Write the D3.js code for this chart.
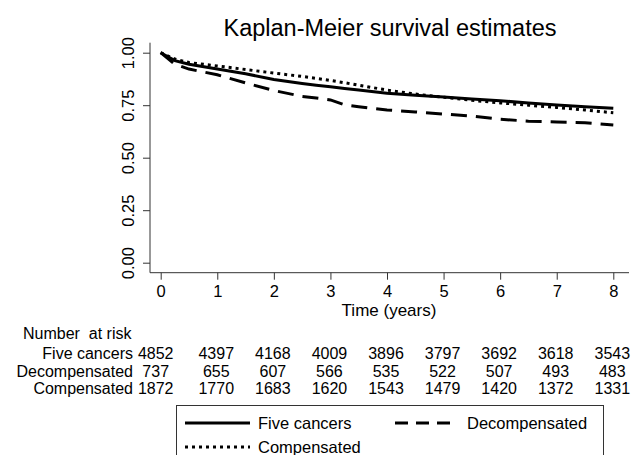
<!DOCTYPE html>
<html>
<head>
<meta charset="utf-8">
<script src="https://cdn.jsdelivr.net/npm/d3@7"></script>
<style>
  body { margin: 0; background: #fff; }
  svg { font-family: "Liberation Sans", Arial, sans-serif; display: block; }
</style>
</head>
<body>
<div id="chart"></div>
<script>
// data
const times = [0, 0.25, 0.5, 1, 1.5, 2, 2.5, 2.75, 3, 3.25, 3.5, 4, 4.5, 5, 5.5, 6, 6.5, 7, 7.5, 8];
const fiveCancers   = [1.0, 0.962, 0.945, 0.922, 0.900, 0.872, 0.853, 0.845, 0.838, 0.830, 0.822, 0.807, 0.797, 0.789, 0.780, 0.771, 0.761, 0.751, 0.743, 0.735];
const decompensated = [1.0, 0.945, 0.922, 0.895, 0.856, 0.820, 0.792, 0.784, 0.775, 0.752, 0.743, 0.727, 0.718, 0.708, 0.698, 0.683, 0.674, 0.670, 0.667, 0.656];
const compensated   = [1.0, 0.970, 0.953, 0.937, 0.920, 0.903, 0.887, 0.878, 0.868, 0.857, 0.845, 0.822, 0.803, 0.788, 0.773, 0.761, 0.750, 0.739, 0.727, 0.714];

const riskTimes = [0, 1, 2, 3, 4, 5, 6, 7, 8];
const riskLabels = ['Five cancers', 'Decompensated', 'Compensated'];
const riskFive = [4852, 4397, 4168, 4009, 3896, 3797, 3692, 3618, 3543];
const riskDecomp = [737, 655, 607, 566, 535, 522, 507, 493, 483];
const riskComp = [1872, 1770, 1683, 1620, 1543, 1479, 1420, 1372, 1331];

const yTicks = [0, 0.25, 0.5, 0.75, 1];
const xTicks = [0, 1, 2, 3, 4, 5, 6, 7, 8];

const W = 644, H = 455;
const svg = d3.select('#chart').append('svg')
	.attr('width', W)
	.attr('height', H);

// scales
const x = d3.scaleLinear().domain([0, 8]).range([160.7, 613.3]);
const y = d3.scaleLinear().domain([0, 1]).range([262.7, 52.7]);
const axisX0 = 150, axisY0 = 272.7;

// title
svg.append('text')
	.attr('x', 390).attr('y', 36)
	.attr('text-anchor', 'middle')
	.style('font-size', '23.5px')
	.text('Kaplan-Meier survival estimates');

// y axis
const yAxis = d3.axisLeft(y).tickValues(yTicks).tickFormat(d3.format('.2f')).tickSize(7).tickSizeOuter(0);
const gy = svg.append('g').attr('transform', `translate(${axisX0},0)`).call(yAxis);
gy.select('.domain').attr('d', `M0,42.7V${axisY0}`);
gy.selectAll('.tick text')
	.attr('x', 0).attr('dy', 0)
	.attr('transform', 'translate(-16,0) rotate(-90)')
	.attr('text-anchor', 'middle')
	.style('font-size', '16.5px')
	.style('font-family', '"Liberation Sans", Arial, sans-serif');

// x axis
const xAxis = d3.axisBottom(x).tickValues(xTicks).tickSize(7).tickSizeOuter(0);
const gx = svg.append('g').attr('transform', `translate(0,${axisY0})`).call(xAxis);
gx.select('.domain').attr('d', `M${axisX0},0H629`);
gx.selectAll('.tick text')
	.attr('y', 13)
	.style('font-size', '16.5px')
	.style('font-family', '"Liberation Sans", Arial, sans-serif');
svg.selectAll('.domain, .tick line').attr('stroke', '#333').attr('stroke-width', 1);

svg.append('text')
	.attr('x', 389).attr('y', 316)
	.attr('text-anchor', 'middle')
	.style('font-size', '17px')
	.text('Time (years)');

// curves
const series = [
	{name: 'Five cancers', values: fiveCancers, dash: null},
	{name: 'Decompensated', values: decompensated, dash: '16,9'},
	{name: 'Compensated', values: compensated, dash: '3,4'}
];
const line = d3.line()
	.x(function(d){ return x(d[0]); })
	.y(function(d){ return y(d[1]); });

svg.selectAll('.curve')
	.data(series)
	.enter()
	.append('path')
	.attr('class', 'curve')
	.attr('fill', 'none')
	.attr('stroke', '#000')
	.attr('stroke-width', 3)
	.attr('stroke-dasharray', function(d){ return d.dash; })
	.attr('d', function(d){ return line(times.map(function(t, i){ return [t, d.values[i]]; })); });

// number at risk table
svg.append('text')
	.attr('x', 23).attr('y', 338.5)
	.style('font-size', '16px')
	.style('white-space', 'pre')
	.text('Number  at risk');

const riskRows = [riskFive, riskDecomp, riskComp];
const rowY = [358.5, 376.5, 394];
riskRows.forEach(function(row, r){
	svg.append('text')
		.attr('x', 133).attr('y', rowY[r])
		.attr('text-anchor', 'end')
		.style('font-size', '16px')
		.text(riskLabels[r]);
	svg.selectAll('.risk' + r)
		.data(row)
		.enter()
		.append('text')
		.attr('class', 'risk' + r)
		.attr('x', function(d, i){ return x(riskTimes[i]) - (i === 0 ? 5 : 1); })
		.attr('y', rowY[r])
		.attr('text-anchor', 'middle')
		.style('font-size', '16px')
		.text(function(d){ return d; });
});

// legend
svg.append('rect')
	.attr('x', 176.5).attr('y', 405.5)
	.attr('width', 427).attr('height', 60)
	.attr('fill', 'none')
	.attr('stroke', '#333');

const legendItems = [
	{name: 'Five cancers', dash: null, x: 185, y: 423},
	{name: 'Decompensated', dash: '13,8', x: 395, y: 423},
	{name: 'Compensated', dash: '3,4', x: 185, y: 447}
];
const lg = svg.selectAll('.legend')
	.data(legendItems)
	.enter()
	.append('g')
	.attr('class', 'legend')
	.attr('transform', function(d){ return `translate(${d.x},${d.y})`; });
lg.append('line')
	.attr('x1', 0).attr('x2', function(d){ return d.dash === '13,8' ? 58 : 65; })
	.attr('stroke', '#000')
	.attr('stroke-width', 3)
	.attr('stroke-dasharray', function(d){ return d.dash; });
lg.append('text')
	.attr('x', function(d){ return d.dash === '13,8' ? 72 : 73; })
	.attr('dy', '0.35em')
	.style('font-size', '16.5px')
	.text(function(d){ return d.name; });
</script>
</body>
</html>
